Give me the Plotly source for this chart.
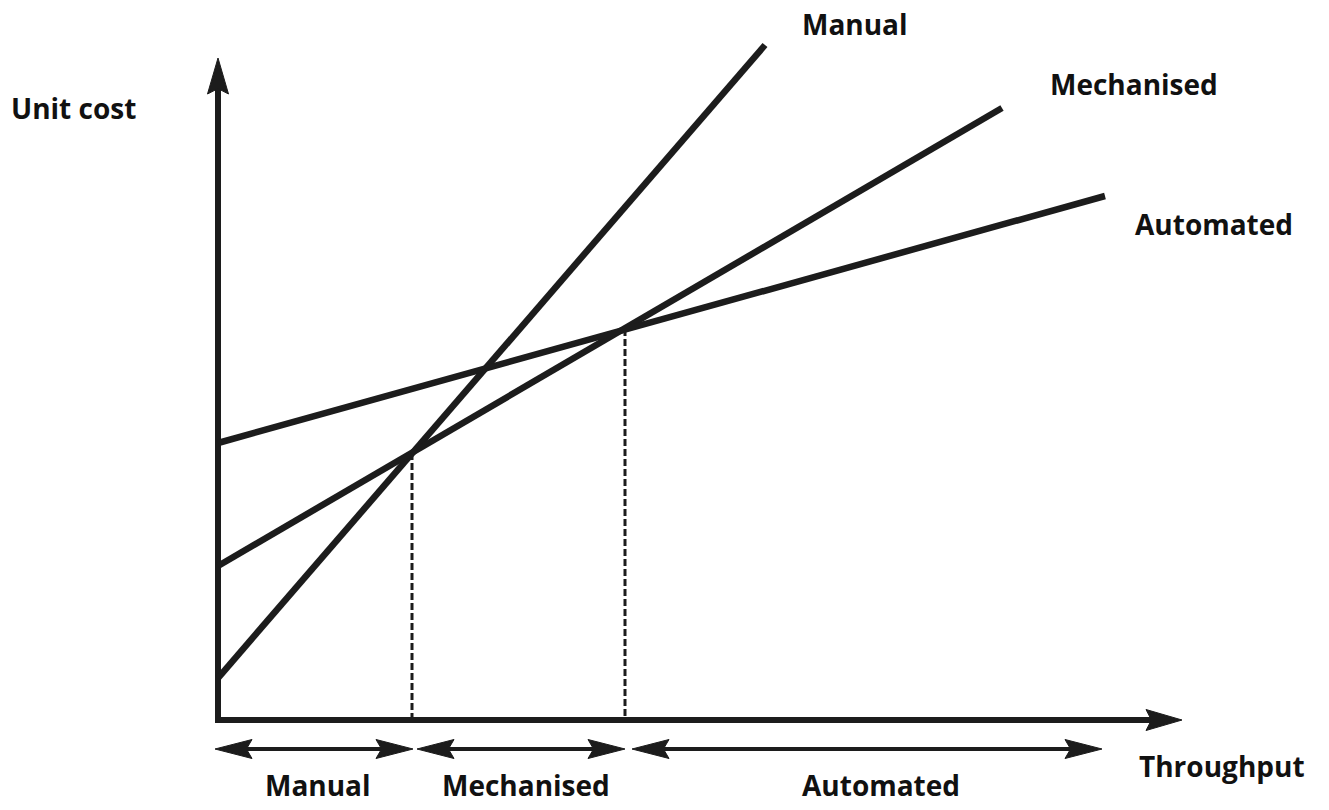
import plotly.graph_objects as go

# ---- Data (throughput units on x, unit-cost units on y) ----
cost_lines = ["Manual", "Mechanised", "Automated"]
line_start_x = [0.0, 0.0, 0.0]
line_start_y = [4.2, 15.4, 27.7]
line_end_x = [54.7, 78.4, 88.7]
line_end_y = [67.5, 61.2, 52.4]

breakeven_x = [19.4, 40.7]
breakeven_y = [26.7, 39.1]

regime_labels = ["Manual", "Mechanised", "Automated"]
regime_start = [-0.3, 19.9, 41.4]
regime_end = [19.5, 40.7, 88.4]
regime_arrow_y = -2.9

axis_x_end = 96.4
axis_y_end = 66.2

INK = "#1c1c1c"
FONT = dict(family="Open Sans", size=28, color="#111111", weight="bold")

fig = go.Figure()
shapes = []


def head(tx, ty, dx, dy, L=3.6, W=1.05, notch=0.85):
    """Barbed arrowhead polygon (data coords) with tip at (tx,ty) pointing along (dx,dy)."""
    nx, ny = -dy, dx
    bx, by = tx - L * dx, ty - L * dy
    mx, my = tx - notch * L * dx, ty - notch * L * dy
    p = (f"M{tx},{ty} L{bx + W * nx},{by + W * ny} L{mx},{my} "
         f"L{bx - W * nx},{by - W * ny} Z")
    return dict(type="path", path=p, xref="x", yref="y",
                fillcolor=INK, line=dict(color=INK, width=1), layer="above")


# axes
fig.add_trace(go.Scatter(x=[0, 0], y=[axis_y_end - 3.0, -0.3], mode="lines",
                         line=dict(color=INK, width=6), hoverinfo="skip"))
fig.add_trace(go.Scatter(x=[-0.3, axis_x_end - 3.0], y=[0, 0], mode="lines",
                         line=dict(color=INK, width=6), hoverinfo="skip"))
shapes.append(head(0, axis_y_end, 0, 1))
shapes.append(head(axis_x_end, 0, 1, 0))

# cost lines
for name, x0, y0, x1, y1 in zip(cost_lines, line_start_x, line_start_y,
                                line_end_x, line_end_y):
    fig.add_trace(go.Scatter(x=[x0, x1], y=[y0, y1], mode="lines", name=name,
                             line=dict(color=INK, width=6.5)))

# breakeven dashed verticals
for bx, by in zip(breakeven_x, breakeven_y):
    fig.add_trace(go.Scatter(x=[bx, bx], y=[by, 0], mode="lines",
                             line=dict(color=INK, width=3, dash="7px,3px"),
                             hoverinfo="skip"))

# regime double arrows
for s, e in zip(regime_start, regime_end):
    fig.add_trace(go.Scatter(x=[s + 3.0, e - 3.0], y=[regime_arrow_y] * 2,
                             mode="lines", line=dict(color=INK, width=4),
                             hoverinfo="skip"))
    shapes.append(head(s, regime_arrow_y, -1, 0, L=3.7, W=0.95))
    shapes.append(head(e, regime_arrow_y, 1, 0, L=3.7, W=0.95))

annotations = [
    dict(text="Unit cost", x=-14.5, y=61.2),
    dict(text="Manual", x=63.7, y=69.6),
    dict(text="Mechanised", x=91.6, y=63.6),
    dict(text="Automated", x=99.6, y=49.6),
    dict(text="Throughput", x=100.4, y=-4.6),
]
label_x = [10.0, 30.8, 66.3]
for lab, lx in zip(regime_labels, label_x):
    annotations.append(dict(text=lab, x=lx, y=-6.5))
for a in annotations:
    a.update(xref="x", yref="y", showarrow=False, font=FONT,
             xanchor="center", yanchor="middle")

fig.update_layout(
    width=1329, height=810,
    margin=dict(l=0, r=0, t=0, b=0),
    paper_bgcolor="white", plot_bgcolor="white",
    showlegend=False,
    xaxis=dict(range=[-21.8, 111.1], visible=False, fixedrange=True),
    yaxis=dict(range=[-9.0, 72.0], visible=False, fixedrange=True),
    shapes=shapes,
    annotations=annotations,
)

# remove the default 8px page margin so the figure fills the window exactly
fig.write_html("out.html",
               config={"displayModeBar": False},
               post_script="document.body.style.margin='0';"
                           "document.body.style.overflow='hidden';")
